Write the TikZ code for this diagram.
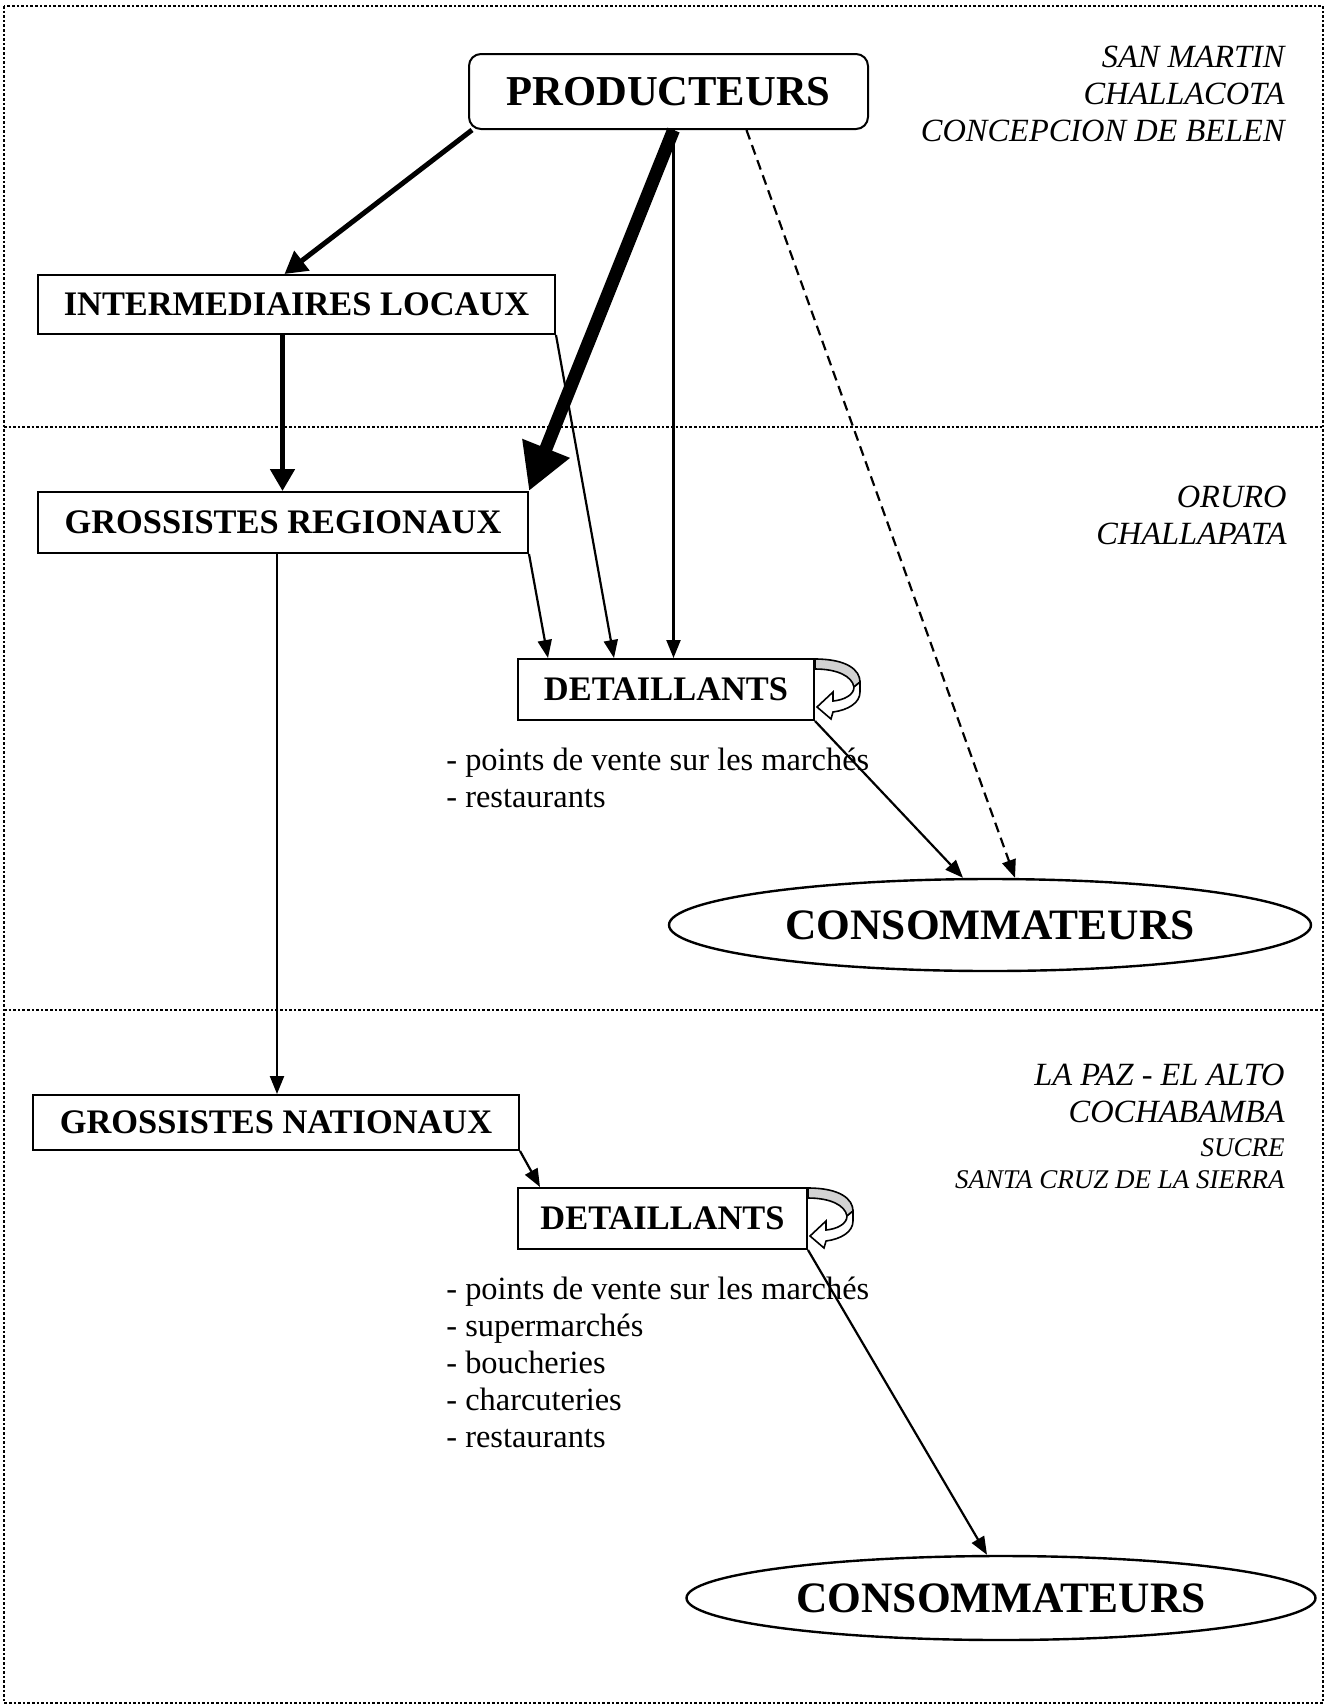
\documentclass[tikz,border=0pt]{standalone}
\usepackage{fontspec}
\setmainfont{Liberation Serif}
\usetikzlibrary{shapes.geometric, arrows.meta}
\tikzset{
    box/.style={rectangle, draw, line width=1pt, inner sep=0pt, font=\bfseries\fontsize{17.2}{20}\selectfont},
    oval/.style={ellipse, draw, line width=1.2pt, inner sep=0pt, font=\bfseries\fontsize{21.7}{26}\selectfont},
    place/.style={anchor=north east, inner sep=0pt, align=right, font=\itshape\fontsize{16.2}{18.5}\selectfont},
    outlet/.style={anchor=north west, inner sep=0pt, align=left, font=\fontsize{16.2}{18.4}\selectfont},
    arrow/.style={line width=1.1pt, -{Triangle[length=9pt,width=7pt]}},
    bigarrow/.style={line width=2.5pt, -{Triangle[length=11pt,width=12pt]}},
    hugearrow/.style={line width=6.5pt, -{Triangle[length=23pt,width=24pt]}},
    frame/.style={line width=1.3pt, densely dotted},
    selfloop/.pic={
        \filldraw[line width=0.8pt, fill=gray!35] (0,1) .. controls (32,1) and (45,12) .. (45,24) -- (39,29) .. controls (37,18) and (22,11) .. (0,11) -- cycle;
        \filldraw[line width=0.8pt, fill=white] (45,24) -- (45,34) .. controls (45,45) and (33,52) .. (18,54) -- (16,61) -- (2,49) -- (18,34) -- (18,43) .. controls (29,42) and (39,37) .. (39,29) -- cycle;
    }
}

\begin{document}
\begin{tikzpicture}[x=0.5pt, y=-0.5pt]
    \useasboundingbox (0,0) rectangle (1326,1705);

    % Zones
    \draw[frame] (4,6) rectangle (1323,1703);
    \draw[frame] (4,427) -- (1323,427);
    \draw[frame] (4,1010) -- (1323,1010);

    % Top zone
    \node[box, rounded corners=6pt, minimum width=199.5pt, minimum height=37.5pt, font=\bfseries\fontsize{21.3}{25}\selectfont] (prod) at (668.5,91.5) {PRODUCTEURS};
    \node[box, minimum width=258.5pt, minimum height=29.5pt] (interm) at (296.5,304.5) {INTERMEDIAIRES LOCAUX};
    \node[place] (zone1) at (1285,46) {SAN MARTIN\\CHALLACOTA\\CONCEPCION DE BELEN};

    % Middle zone
    \node[box, minimum width=245pt, minimum height=30.5pt] (gros) at (283,522.5) {GROSSISTES REGIONAUX};
    \node[box, minimum width=148pt, minimum height=30.5pt] (det1) at (666,689.5) {DETAILLANTS};
    \pic at (det1.north east) {selfloop};
    \node[outlet] (list1) at (446,748) {- points de vente sur les marchés\\- restaurants};
    \node[oval, minimum width=321pt, minimum height=46pt] (cons1) at (990,925) {CONSOMMATEURS};
    \node[place] (zone2) at (1287,486) {ORURO\\CHALLAPATA};

    % Bottom zone
    \node[box, minimum width=243pt, minimum height=27.5pt] (grosnat) at (276,1122.5) {GROSSISTES NATIONAUX};
    \node[box, minimum width=144.5pt, minimum height=30.5pt] (det2) at (662.5,1218.5) {DETAILLANTS};
    \pic at (det2.north east) {selfloop};
    \node[outlet] (list2) at (446,1277) {- points de vente sur les marchés\\- supermarchés\\- boucheries\\- charcuteries\\- restaurants};
    \node[oval, minimum width=314.5pt, minimum height=42pt] (cons2) at (1001,1598) {CONSOMMATEURS};
    \node[place] (zone3) at (1285,1064) {LA PAZ - EL ALTO\\COCHABAMBA};
    \node[place, font=\itshape\fontsize{13.5}{16}\selectfont] (zone3b) at (1285,1138) {SUCRE\\SANTA CRUZ DE LA SIERRA};

    % Arrows from producers
    \draw[bigarrow] ([xshift=2pt]prod.south west) -- ([xshift=-6pt]interm.north);
    \draw[hugearrow] ([xshift=2.5pt]prod.south) -- (gros.north east);
    \draw[arrow] ([xshift=2.5pt]prod.south) -- ([xshift=2.5pt]prod.south |- det1.north);
    \draw[arrow, dash pattern=on 5pt off 3pt] ([xshift=39pt]prod.south) -- ([xshift=12.5pt]cons1.north);

    % Arrows between traders
    \draw[bigarrow] ([xshift=-7pt]interm.south) -- ([xshift=-7pt]interm.south |- gros.north);
    \draw[arrow] (interm.south east) -- ([xshift=-26pt]det1.north);
    \draw[arrow] (gros.south east) -- ([xshift=15.5pt]det1.north west);
    \draw[arrow] (det1.south east) -- ([xshift=-13.5pt]cons1.north);
    \draw[arrow] ([xshift=-3pt]gros.south) -- ([xshift=-3pt]gros.south |- grosnat.north);
    \draw[arrow] (grosnat.south east) -- ([xshift=11.5pt]det2.north west);
    \draw[arrow] (det2.south east) -- ([xshift=-7pt]cons2.north);

\end{tikzpicture}
\end{document}
